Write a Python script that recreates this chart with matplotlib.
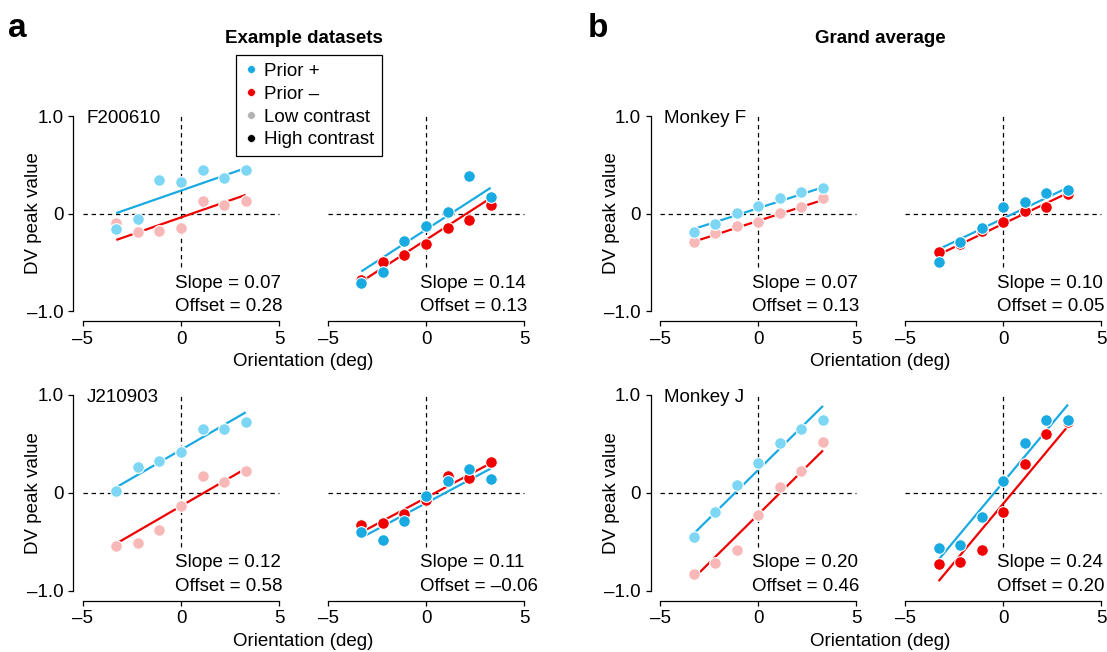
import matplotlib
matplotlib.use("Agg")
import matplotlib.pyplot as plt
from matplotlib.lines import Line2D

plt.rcParams['font.family'] = ['Liberation Sans', 'DejaVu Sans']

# ---------------- data ----------------
orientation = [-3.3, -2.2, -1.1, 0.0, 1.1, 2.2, 3.3]

panel_names = ["F200610", "", "J210903", "", "Monkey F", "", "Monkey J", ""]
panel_contrast = ["low", "high", "low", "high", "low", "high", "low", "high"]

prior_plus = [
    [-0.16, -0.06, 0.34, 0.32, 0.45, 0.36, 0.45],
    [-0.71, -0.60, -0.28, -0.13, 0.02, 0.38, 0.17],
    [0.02, 0.26, 0.33, 0.42, 0.65, 0.65, 0.72],
    [-0.40, -0.48, -0.29, -0.03, 0.12, 0.24, 0.14],
    [-0.19, -0.11, 0.01, 0.08, 0.16, 0.22, 0.26],
    [-0.50, -0.29, -0.15, 0.07, 0.12, 0.21, 0.24],
    [-0.45, -0.20, 0.08, 0.31, 0.51, 0.65, 0.74],
    [-0.56, -0.53, -0.25, 0.12, 0.51, 0.74, 0.74],
]
prior_minus = [
    [-0.10, -0.19, -0.18, -0.15, 0.13, 0.09, 0.13],
    [-0.68, -0.50, -0.43, -0.31, -0.15, -0.07, 0.09],
    [-0.54, -0.51, -0.38, -0.13, 0.17, 0.11, 0.22],
    [-0.33, -0.31, -0.22, -0.07, 0.17, 0.15, 0.32],
    [-0.29, -0.20, -0.13, -0.09, 0.01, 0.07, 0.16],
    [-0.39, -0.31, -0.18, -0.09, 0.03, 0.07, 0.20],
    [-0.83, -0.72, -0.58, -0.23, 0.06, 0.22, 0.52],
    [-0.73, -0.71, -0.58, -0.20, 0.29, 0.60, 0.72],
]

fit_slope = [0.07, 0.13, 0.116, 0.107, 0.065, 0.096, 0.198, 0.24]
fit_icpt_plus = [0.235, -0.165, 0.44, -0.105, 0.055, -0.05, 0.235, 0.11]
fit_icpt_minus = [-0.04, -0.27, -0.135, -0.05, -0.075, -0.105, -0.22, -0.11]

slope_labels = ["0.07", "0.14", "0.12", "0.11", "0.07", "0.10", "0.20", "0.24"]
offset_labels = ["0.28", "0.13", "0.58", "\u20130.06", "0.13", "0.05", "0.46", "0.20"]

xticks = [-5, 0, 5]
xtick_labels = ["\u20135", "0", "5"]
yticks = [-1.0, 0.0, 1.0]
ytick_labels = ["\u20131.0", "0", "1.0"]

legend_labels = ["Prior +", "Prior \u2013", "Low contrast", "High contrast"]

# ---------------- style ----------------
C_BLUE = "#19AAE1"
C_BLUE_LOW = "#7DD7F4"
C_RED = "#F00000"
C_RED_LOW = "#F9B8B8"
C_GRAY = "#B3B3B3"
FS = 13.5

W, H = 1107, 652
fig = plt.figure(figsize=(W / 100, H / 100), dpi=100)

XLIM = (-5.5, 5.2)
YLIM = (-1.1, 1.05)
lefts_px = [73.2, 318.2, 73.2, 318.2, 650.5, 895.5, 650.5, 895.5]
bottoms_px = [320.75, 320.75, 600.5, 600.5, 320.75, 320.75, 600.5, 600.5]
heights_px = [209.6, 209.6, 210.4, 210.4, 209.6, 209.6, 210.4, 210.4]
width_px = 10.7 * 19.6

for i in range(8):
    ax = fig.add_axes([lefts_px[i] / W, (H - bottoms_px[i]) / H,
                       width_px / W, heights_px[i] / H])
    ax.set_xlim(*XLIM)
    ax.set_ylim(*YLIM)
    ax.patch.set_visible(False)
    for s in ["top", "right"]:
        ax.spines[s].set_visible(False)
    ax.spines["bottom"].set_bounds(-5, 5)
    ax.spines["bottom"].set_linewidth(0.9)
    ax.set_xticks(xticks)
    ax.set_xticklabels(xtick_labels)
    ax.tick_params(axis="both", direction="out", length=3.6, width=0.9,
                   labelsize=FS, pad=3.5)
    first_col = (i % 2 == 0)
    if first_col:
        ax.spines["left"].set_bounds(-1, 1)
        ax.spines["left"].set_linewidth(0.9)
        ax.set_yticks(yticks)
        ax.set_yticklabels(ytick_labels)
    else:
        ax.spines["left"].set_visible(False)
        ax.set_yticks([])

    # reference dashed lines
    ax.plot([-5, 5], [0, 0], ls=(0, (3.5, 3)), color="black", lw=0.9, zorder=1)
    ax.plot([0, 0], [-0.55, 1.0], ls=(0, (3.5, 3)), color="black", lw=0.9, zorder=1)

    low = panel_contrast[i] == "low"
    cb = C_BLUE_LOW if low else C_BLUE
    cr = C_RED_LOW if low else C_RED

    xs = [orientation[0], orientation[-1]]
    ax.plot(xs, [fit_slope[i] * x + fit_icpt_plus[i] for x in xs],
            color=C_BLUE, lw=1.6, zorder=2, solid_capstyle="butt")
    ax.plot(xs, [fit_slope[i] * x + fit_icpt_minus[i] for x in xs],
            color=C_RED, lw=1.6, zorder=2, solid_capstyle="butt")
    ax.plot(orientation, prior_minus[i], ls="none", marker="o", ms=8.4,
            mfc=cr, mec="white", mew=0.8, zorder=3)
    ax.plot(orientation, prior_plus[i], ls="none", marker="o", ms=8.4,
            mfc=cb, mec="white", mew=0.8, zorder=4)

    ax.text(-0.3, -0.715, "Slope = " + slope_labels[i], fontsize=FS,
            ha="left", va="center", clip_on=False)
    ax.text(-0.3, -0.955, "Offset = " + offset_labels[i], fontsize=FS,
            ha="left", va="center", clip_on=False)
    if panel_names[i]:
        ax.text(-4.8, 0.97, panel_names[i], fontsize=FS, ha="left", va="center")

# axis labels
for xc in [33, 611]:
    for yc in [213.5, 492.8]:
        fig.text(xc / W, 1 - yc / H, "DV peak value", rotation=90,
                 fontsize=FS, ha="center", va="center")
for xc in [303.5, 880.6]:
    for yc in [362, 641]:
        fig.text(xc / W, 1 - yc / H, "Orientation (deg)", fontsize=FS,
                 ha="center", va="center")

# titles and panel letters
fig.text(303.5 / W, 1 - 38.3 / H, "Example datasets", fontsize=FS,
         fontweight="bold", ha="center", va="center")
fig.text(880.6 / W, 1 - 38.3 / H, "Grand average", fontsize=FS,
         fontweight="bold", ha="center", va="center")
fig.text(8 / W, 1 - 37 / H, "a", fontsize=24, fontweight="bold",
         ha="left", va="baseline")
fig.text(588 / W, 1 - 37 / H, "b", fontsize=24, fontweight="bold",
         ha="left", va="baseline")

# legend
handle_colors = [C_BLUE, C_RED, C_GRAY, "black"]
handles = [Line2D([], [], ls="none", marker="o", ms=5.6, mfc=c, mec="white",
                  mew=0.4) for c in handle_colors]
leg = fig.legend(handles, legend_labels, loc="upper left",
                 bbox_to_anchor=(236 / W, 1 - 55 / H), fontsize=FS,
                 frameon=True, fancybox=False, edgecolor="black",
                 framealpha=1, borderpad=0.42, handlelength=0.8,
                 handletextpad=0.25, labelspacing=0.3, borderaxespad=0)
leg.get_frame().set_linewidth(0.9)

fig.savefig("out.png", dpi=100)
